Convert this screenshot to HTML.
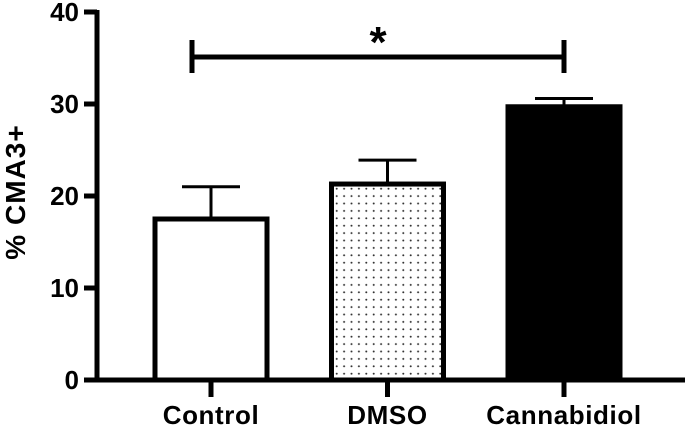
<!DOCTYPE html>
<html><head><meta charset="utf-8"><style>
html,body{margin:0;padding:0;background:#fff;}
svg text{font-family:"Liberation Sans",Arial,sans-serif;font-weight:bold;fill:#000;}
</style></head><body>
<svg id="chart" width="685" height="429" viewBox="0 0 685 429">
<defs>
<pattern id="dots" width="7.4" height="7.4" patternUnits="userSpaceOnUse"><circle cx="3.7" cy="3.7" r="1" fill="#333"/></pattern>
</defs>
<g id="plot"></g>
</svg>
<script>
const categories = ["Control","DMSO","Cannabidiol"];
const means = [17.5, 21.3, 29.7];
const errors = [3.5, 2.6, 0.9];
const yTicks = [0,10,20,30,40];
const sigLabel = "*";
const ns="http://www.w3.org/2000/svg";
const g=document.getElementById('plot');
const y0=380, yTop=12, yMax=40;
function y(v){return y0-(v/yMax)*(y0-yTop);}
function x(i){return 211+i*176.5;}
const bw=112;
const fills=["#fff","url(#dots)","#000"];
function el(t,a){const e=document.createElementNS(ns,t);for(const k in a)e.setAttribute(k,a[k]);g.appendChild(e);return e;}
categories.forEach((c,i)=>{
  const cx=x(i);
  let ln=el('line',{x1:cx,x2:cx,y1:y(means[i]),y2:y(means[i]+errors[i]),stroke:'#000','stroke-width':3});
  
  
  let cap=el('line',{x1:cx-29,x2:cx+29,y1:y(means[i]+errors[i]),y2:y(means[i]+errors[i]),stroke:'#000','stroke-width':3});
  
  
  let r=el('rect',{x:cx-bw/2,y:y(means[i]),width:bw,height:y0-y(means[i]),fill:fills[i],stroke:'#000','stroke-width':5});
  
  
  let t=el('line',{x1:cx,x2:cx,y1:y0,y2:y0+17,stroke:'#000','stroke-width':5});
  
  
  let tx=el('text',{x:cx,y:y0+44,'text-anchor':'middle','font-size':26,'letter-spacing':'0.6'});
  tx.textContent=c;
  
  
});
let ax=el('line',{x1:97,x2:97,y1:yTop-2,y2:y0+2.5,stroke:'#000','stroke-width':5});


let bx=el('line',{x1:95,x2:685,y1:y0,y2:y0,stroke:'#000','stroke-width':5});


yTicks.forEach(v=>{
  let t=el('line',{x1:84,x2:97,y1:y(v),y2:y(v),stroke:'#000','stroke-width':5});
  
  
  let tx=el('text',{x:79,y:y(v)+9,'text-anchor':'end','font-size':26});
  tx.textContent=v;
  
  
});
let yt=el('text',{x:0,y:0,'text-anchor':'middle','font-size':28,'letter-spacing':'1',transform:'translate(25,192) rotate(-90)'});
yt.textContent="% CMA3+";


const by=57;
let br=el('path',{d:`M${x(0)-19},${by-17}V${by+16}M${x(0)-19},${by}H${x(2)}M${x(2)},${by-17}V${by+16}`,stroke:'#000','stroke-width':5,fill:'none'});


let st=el('text',{x:(x(0)-19+x(2))/2,y:by,'text-anchor':'middle','font-size':44});
st.textContent=sigLabel;


</script>
</body></html>
